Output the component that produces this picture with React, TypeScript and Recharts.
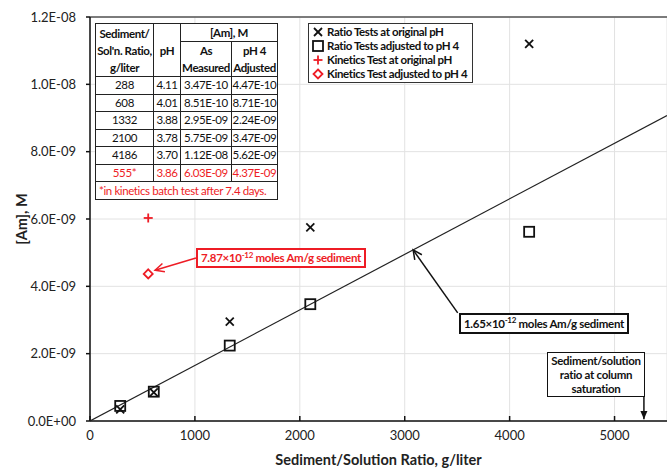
import {
  ScatterChart,
  Scatter,
  XAxis,
  YAxis,
  CartesianGrid,
  ReferenceLine,
  Legend,
} from 'recharts'

// ratio tests: sediment/solution ratio (g/liter), pH, [Am] as measured and pH 4 adjusted
const ratios = [288, 608, 1332, 2100, 4186]
const ratioPh = ['4.11', '4.01', '3.88', '3.78', '3.70']
const amMeasured = [3.47e-10, 8.51e-10, 2.95e-9, 5.75e-9, 1.12e-8]
const amAdjusted = [4.47e-10, 8.71e-10, 2.24e-9, 3.47e-9, 5.62e-9]

// kinetics batch test after 7.4 days
const kineticsRatio = 555
const kineticsPh = '3.86'
const kineticsMeasured = 6.03e-9
const kineticsAdjusted = 4.37e-9

// sorption slopes, moles Am / g sediment
const fitSlope = 1.65e-12
const kineticsSlope = 7.87e-12
const saturationRatio = 5280

const xMax = 5500
const xTicks = [0, 1000, 2000, 3000, 4000, 5000]
const yTicks = [0, 2e-9, 4e-9, 6e-9, 8e-9, 1e-8, 1.2e-8]

const RED = '#ee1c25'
const FONT = 'Lato, "Open Sans", sans-serif'

const measuredPts = ratios.map((x, i) => ({ x, y: amMeasured[i] }))
const adjustedPts = ratios.map((x, i) => ({ x, y: amAdjusted[i] }))
const kinMeasuredPts = [{ x: kineticsRatio, y: kineticsMeasured }]
const kinAdjustedPts = [{ x: kineticsRatio, y: kineticsAdjusted }]
const fitPts = [
  { x: 0, y: 0 },
  { x: xMax, y: fitSlope * xMax },
]

const sci = (v: number, d: number) => {
  if (v === 0) return (0).toFixed(d) + 'E+00'
  const [m, e] = v.toExponential(d).split('e')
  const n = Number(e)
  return `${m}E${n < 0 ? '-' : '+'}${String(Math.abs(n)).padStart(2, '0')}`
}

// marker shapes
const Cross = ({ cx, cy }: any) => (
  <g stroke="#111" strokeWidth={1.8}>
    <line x1={cx - 4} y1={cy - 4} x2={cx + 4} y2={cy + 4} />
    <line x1={cx - 4} y1={cy + 4} x2={cx + 4} y2={cy - 4} />
  </g>
)
const Square = ({ cx, cy }: any) => (
  <rect x={cx - 5} y={cy - 5} width={10} height={10} fill="none" stroke="#111" strokeWidth={1.8} />
)
const Plus = ({ cx, cy }: any) => (
  <g stroke={RED} strokeWidth={1.8}>
    <line x1={cx - 4.5} y1={cy} x2={cx + 4.5} y2={cy} />
    <line x1={cx} y1={cy - 4.5} x2={cx} y2={cy + 4.5} />
  </g>
)
const Diamond = ({ cx, cy }: any) => (
  <polygon
    points={`${cx},${cy - 4.5} ${cx + 4.5},${cy} ${cx},${cy + 4.5} ${cx - 4.5},${cy}`}
    fill="#fff"
    stroke={RED}
    strokeWidth={1.8}
  />
)

const series = [
  { name: 'Ratio Tests at original pH', data: measuredPts, shape: Cross, color: '#111' },
  { name: 'Ratio Tests adjusted to pH 4', data: adjustedPts, shape: Square, color: '#111' },
  { name: 'Kinetics Test at original pH', data: kinMeasuredPts, shape: Plus, color: RED },
  { name: 'Kinetics Test adjusted to pH 4', data: kinAdjustedPts, shape: Diamond, color: RED },
]

const renderLegend = () => (
  <div
    style={{
      border: '1.5px solid #333',
      background: '#fff',
      padding: '1px 5px 1px 3px',
      fontFamily: FONT,
      fontWeight: 700,
      fontSize: 11.5,
      letterSpacing: -0.4,
      lineHeight: '14px',
      color: '#111',
    }}
  >
    {series.map((s) => {
      const Shape = s.shape
      return (
        <div key={s.name} style={{ display: 'flex', alignItems: 'center', gap: 3, whiteSpace: 'nowrap' }}>
          <svg width={12} height={12}>
            <Shape cx={6} cy={6} />
          </svg>
          <span>{s.name}</span>
        </div>
      )
    })}
  </div>
)

// straight arrow drawn between the reference segment end points
const arrow = (color: string, filled: boolean) => (p: any) => {
  const { x1, y1, x2, y2 } = p
  const a = Math.atan2(y2 - y1, x2 - x1)
  const len = filled ? 9 : 10
  const spread = filled ? 0.4 : 0.45
  const lx = x2 - len * Math.cos(a - spread)
  const ly = y2 - len * Math.sin(a - spread)
  const rx = x2 - len * Math.cos(a + spread)
  const ry = y2 - len * Math.sin(a + spread)
  return (
    <g>
      <line x1={x1} y1={y1} x2={x2} y2={y2} stroke={color} strokeWidth={1.5} />
      {filled ? (
        <polygon points={`${x2},${y2} ${lx},${ly} ${rx},${ry}`} fill={color} />
      ) : (
        <polyline points={`${lx},${ly} ${x2},${y2} ${rx},${ry}`} fill="none" stroke={color} strokeWidth={1.5} />
      )}
    </g>
  )
}

const cell: React.CSSProperties = {
  border: '1px solid #222',
  padding: 0,
  textAlign: 'center',
  whiteSpace: 'nowrap',
  overflow: 'hidden',
}

const DataTable = () => (
  <table
    style={{
      position: 'absolute',
      left: 95,
      top: 23,
      borderCollapse: 'collapse',
      background: '#fff',
      fontFamily: FONT,
      fontSize: 11.5,
      letterSpacing: -0.4,
      lineHeight: '16.5px',
      color: '#111',
      tableLayout: 'fixed',
      width: 182,
    }}
  >
    <colgroup>
      <col style={{ width: 58 }} />
      <col style={{ width: 27 }} />
      <col style={{ width: 51 }} />
      <col style={{ width: 46 }} />
    </colgroup>
    <tbody>
      <tr style={{ fontWeight: 700, lineHeight: '17px' }}>
        <td rowSpan={2} style={cell}>
          Sediment/
          <br />
          Sol'n. Ratio,
          <br />
          g/liter
        </td>
        <td rowSpan={2} style={cell}>pH</td>
        <td colSpan={2} style={cell}>[Am], M</td>
      </tr>
      <tr style={{ fontWeight: 700, lineHeight: '17px' }}>
        <td style={cell}>
          As
          <br />
          Measured
        </td>
        <td style={cell}>
          pH 4
          <br />
          Adjusted
        </td>
      </tr>
      {ratios.map((r, i) => (
        <tr key={r}>
          <td style={cell}>{r}</td>
          <td style={cell}>{ratioPh[i]}</td>
          <td style={cell}>{sci(amMeasured[i], 2)}</td>
          <td style={cell}>{sci(amAdjusted[i], 2)}</td>
        </tr>
      ))}
      <tr style={{ color: RED }}>
        <td style={cell}>{kineticsRatio}*</td>
        <td style={cell}>{kineticsPh}</td>
        <td style={cell}>{sci(kineticsMeasured, 2)}</td>
        <td style={cell}>{sci(kineticsAdjusted, 2)}</td>
      </tr>
      <tr style={{ color: RED }}>
        <td colSpan={4} style={{ ...cell, textAlign: 'left', paddingLeft: 3, lineHeight: '17px' }}>
          *in kinetics batch test after 7.4 days.
        </td>
      </tr>
    </tbody>
  </table>
)

const noteBox: React.CSSProperties = {
  position: 'absolute',
  background: '#fff',
  fontFamily: FONT,
  fontWeight: 700,
  fontSize: 11.5,
  letterSpacing: -0.3,
  whiteSpace: 'nowrap',
  boxSizing: 'border-box',
}

const supStyle: React.CSSProperties = { fontSize: 8, verticalAlign: 'top', lineHeight: '10px' }

// slope in units of 1e-12 for the annotation text
const e12 = (v: number) => (v * 1e12).toFixed(2)

export default function App() {
  return (
    <div style={{ position: 'relative', width: 667, height: 468, background: '#fff', fontFamily: FONT }}>
      <style>{'body{margin:0}'}</style>
      <ScatterChart width={667} height={468} margin={{ top: 17, right: 0, bottom: 0, left: 0 }}>
        <CartesianGrid stroke="#e2e2e2" strokeWidth={1} />
        <XAxis
          type="number"
          dataKey="x"
          domain={[0, xMax]}
          ticks={xTicks}
          allowDataOverflow
          height={47}
          stroke="#111"
          strokeWidth={1.5}
          tickSize={-5}
          tickMargin={15}
          tick={{ fill: '#222', fontSize: 13, fontFamily: FONT }}
          label={{
            value: 'Sediment/Solution Ratio, g/liter',
            position: 'insideBottom',
            offset: 3,
            fill: '#222',
            fontSize: 14.5,
            fontWeight: 700,
            fontFamily: FONT,
          }}
        />
        <YAxis
          type="number"
          dataKey="y"
          domain={[0, 1.2e-8]}
          ticks={yTicks}
          width={90}
          stroke="#111"
          strokeWidth={1.5}
          tickSize={4}
          tickMargin={10}
          tickFormatter={(v: number) => sci(v, 1)}
          tick={{ fill: '#222', fontSize: 13, fontFamily: FONT }}
          label={{
            content: ({ viewBox }: any) => (
              <text
                x={21}
                y={viewBox.y + viewBox.height / 2}
                transform={`rotate(-90 21 ${viewBox.y + viewBox.height / 2})`}
                textAnchor="middle"
                dominantBaseline="central"
                fill="#222"
                fontSize={14.5}
                fontWeight={700}
                fontFamily={FONT}
              >
                [Am], M
              </text>
            ),
          }}
        />
        <ReferenceLine y={1.2e-8} stroke="#555" strokeWidth={1.5} />

        {/* linear sorption fit, 1.65e-12 moles Am / g sediment */}
        <Scatter
          data={fitPts}
          line={{ stroke: '#222', strokeWidth: 1.2 }}
          shape={() => <g />}
          legendType="none"
          isAnimationActive={false}
        />

        {series.map((s) => (
          <Scatter key={s.name} name={s.name} data={s.data} shape={s.shape} fill={s.color} isAnimationActive={false} />
        ))}

        {/* annotation arrows */}
        <ReferenceLine
          segment={[
            { x: 1010, y: 4.84e-9 },
            { x: kineticsRatio + 65, y: kineticsAdjusted + 0.11e-9 },
          ]}
          shape={arrow(RED, false)}
        />
        <ReferenceLine
          segment={[
            { x: 3505, y: 3.21e-9 },
            { x: 3080, y: fitSlope * 3080 },
          ]}
          shape={arrow('#111', false)}
        />
        <ReferenceLine
          segment={[
            { x: saturationRatio, y: 0.71e-9 },
            { x: saturationRatio, y: 0.05e-9 },
          ]}
          shape={arrow('#111', true)}
        />

        <Legend
          content={renderLegend}
          layout="vertical"
          align="center"
          verticalAlign="middle"
          wrapperStyle={{ left: 308, top: 23, width: 'auto' }}
        />
      </ScatterChart>

      <DataTable />

      <div
        style={{
          ...noteBox,
          left: 196,
          top: 248,
          height: 20,
          border: `2px solid ${RED}`,
          color: RED,
          padding: '0 3px',
          lineHeight: '16px',
        }}
      >
        {e12(kineticsSlope)}×10<sup style={supStyle}>-12</sup> moles Am/g sediment
      </div>

      <div
        style={{
          ...noteBox,
          left: 459,
          top: 313,
          height: 21,
          border: '2px solid #111',
          color: '#111',
          padding: '0 3px',
          lineHeight: '17px',
        }}
      >
        {e12(fitSlope)}×10<sup style={supStyle}>-12</sup> moles Am/g sediment
      </div>

      <div
        style={{
          ...noteBox,
          left: 547,
          top: 352,
          width: 98,
          height: 45,
          border: '1.5px solid #111',
          color: '#111',
          textAlign: 'center',
          lineHeight: '14px',
          paddingTop: 1,
        }}
      >
        Sediment/solution
        <br />
        ratio at column
        <br />
        saturation
      </div>
    </div>
  )
}
